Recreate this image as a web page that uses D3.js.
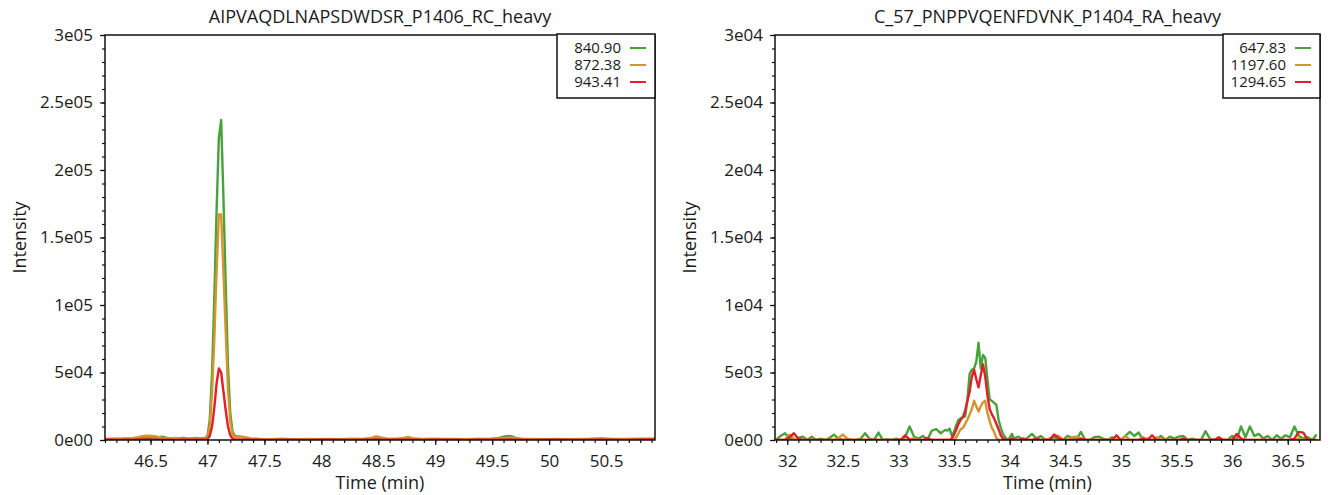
<!DOCTYPE html>
<html>
<head>
<meta charset="utf-8">
<script src="https://cdn.jsdelivr.net/npm/d3@7"></script>
<style>
body{margin:0;background:#fff;}
svg text{font-family:"Open Sans",sans-serif;fill:#1a1a1a;}
</style>
</head>
<body>
<script>
//chromatogram data

//left panel: AIPVAQDLNAPSDWDSR_P1406_RC_heavy
var leftTitle = "AIPVAQDLNAPSDWDSR_P1406_RC_heavy";
var leftSeries = ["840.90", "872.38", "943.41"];
var leftTimes = [46.10, 46.16, 46.22, 46.28, 46.34, 46.40, 46.44, 46.48, 46.52, 46.56, 46.60, 46.66, 46.72, 46.78, 46.84, 46.90, 46.94, 46.98,
    47.00, 47.02, 47.04, 47.06, 47.08, 47.10, 47.12, 47.14, 47.16, 47.18, 47.20, 47.22, 47.24,
    47.28, 47.32, 47.38, 47.46, 47.56, 47.66, 47.76, 47.86, 47.96,
    48.06, 48.16, 48.26, 48.36, 48.44, 48.48, 48.52, 48.58, 48.66, 48.72, 48.76, 48.80, 48.88, 48.98,
    49.08, 49.18, 49.28, 49.38, 49.48, 49.56, 49.62, 49.66, 49.70, 49.76, 49.86, 49.96,
    50.06, 50.16, 50.26, 50.36, 50.46, 50.56, 50.66, 50.76, 50.86, 50.93];
var leftGreen = [500, 800, 400, 1200, 800, 1500, 1800, 1200, 2000, 1500, 2500, 1200, 800, 1500, 1000, 1500, 1200, 1500,
    3000, 15000, 50000, 105000, 170000, 224000, 237000, 180000, 115000, 55000, 20000, 6000, 3000,
    2500, 2000, 800, 500, 300, 600, 300, 500, 300,
    400, 300, 500, 300, 600, 900, 500, 300, 400, 500, 800, 400, 300, 500,
    300, 400, 300, 500, 600, 1500, 2800, 3000, 1800, 600, 400, 300,
    500, 300, 400, 300, 500, 300, 400, 300, 500, 300];
var leftOrange = [800, 1000, 1200, 900, 1400, 2200, 3000, 3200, 3000, 2400, 1600, 1200, 1500, 1000, 800, 1200, 900, 1200,
    2000, 10000, 35000, 75000, 125000, 167000, 167000, 125000, 80000, 38000, 14000, 4000, 2000,
    2500, 2200, 1200, 800, 600, 900, 500, 800, 600,
    700, 600, 900, 700, 1500, 2600, 2000, 900, 1000, 1600, 2200, 1300, 800, 900,
    700, 800, 600, 900, 700, 1200, 1600, 1800, 1300, 800, 700, 600,
    800, 600, 700, 900, 1400, 800, 700, 900, 1000, 1200];
var leftRed = [200, 300, 100, 300, 200, 400, 300, 400, 300, 200, 300, 200, 100, 300, 200, 300, 200, 300,
    500, 3000, 10000, 24000, 42000, 53000, 50000, 36000, 22000, 10000, 3500, 1000, 300,
    400, 300, 200, 300, 100, 200, 300, 100, 200,
    300, 200, 100, 300, 200, 400, 300, 200, 300, 200, 300, 200, 100, 300,
    200, 300, 100, 200, 300, 200, 300, 400, 300, 200, 100, 300,
    200, 300, 100, 200, 300, 200, 100, 300, 400, 300];
var leftXTicks = [46.5, 47, 47.5, 48, 48.5, 49, 49.5, 50, 50.5];
var leftYTicks = [0, 50000, 100000, 150000, 200000, 250000, 300000];
var leftYLabels = ["0e00", "5e04", "1e05", "1.5e05", "2e05", "2.5e05", "3e05"];

//right panel: C_57_PNPPVQENFDVNK_P1404_RA_heavy
var rightTitle = "C_57_PNPPVQENFDVNK_P1404_RA_heavy";
var rightSeries = ["647.83", "1197.60", "1294.65"];
var rightTimes = [31.90, 31.94, 31.98, 32.02, 32.06, 32.10, 32.14, 32.18, 32.22, 32.26, 32.30, 32.34, 32.38, 32.42, 32.46, 32.50, 32.54, 32.58, 32.62, 32.66,
    32.70, 32.74, 32.78, 32.82, 32.86, 32.90, 32.94, 32.98, 33.02, 33.06, 33.10, 33.14, 33.18, 33.22, 33.26, 33.30, 33.34, 33.38, 33.42,
    33.44, 33.46, 33.48, 33.50, 33.52, 33.54, 33.56, 33.58, 33.60, 33.62, 33.64, 33.66, 33.68, 33.70, 33.72, 33.74, 33.76, 33.78, 33.80, 33.82,
    33.84, 33.86, 33.88, 33.90, 33.92, 33.94, 33.96, 33.98, 34.00, 34.02, 34.04,
    34.08, 34.12, 34.16, 34.20, 34.24, 34.28, 34.32, 34.36, 34.40, 34.44, 34.48, 34.52, 34.56, 34.60, 34.64, 34.68, 34.72, 34.76, 34.80, 34.84,
    34.88, 34.92, 34.96, 35.00, 35.04, 35.08, 35.12, 35.16, 35.20, 35.24, 35.28, 35.32, 35.36, 35.40, 35.44, 35.48, 35.52, 35.56, 35.60, 35.64,
    35.68, 35.72, 35.76, 35.80, 35.84, 35.88, 35.92, 35.96, 36.00, 36.04, 36.08, 36.12, 36.16, 36.20, 36.24, 36.28, 36.32, 36.36, 36.40, 36.44,
    36.48, 36.52, 36.56, 36.60, 36.64, 36.68, 36.72, 36.76];
var rightGreen = [0, 300, 500, 100, 0, 150, 250, 0, 250, 0, 100, 0, 150, 400, 100, 0, 50, 0, 0, 100,
    500, 100, 0, 550, 0, 50, 0, 100, 0, 200, 1000, 250, 100, 300, 0, 700, 800, 500, 750,
    700, 850, 300, 600, 1100, 1500, 1600, 1700, 1750, 3000, 4900, 5200, 5300, 5800, 7200, 5300, 6300, 6100, 4500, 3000,
    2900, 2750, 2600, 1500, 900, 450, 200, 0, 150, 450, 100,
    250, 0, 150, 450, 100, 300, 0, 100, 200, 100, 0, 300, 150, 0, 600, 0, 0, 200, 250, 100,
    0, 200, 0, 0, 300, 600, 300, 550, 0, 100, 0, 0, 300, 0, 250, 100, 250, 300, 0, 100,
    0, 0, 650, 100, 0, 100, 0, 0, 300, 0, 1000, 200, 1000, 300, 450, 100, 300, 0, 350, 100,
    350, 200, 1000, 300, 100, 200, 0, 400];
var rightOrange = [0, 0, 0, 400, 100, 0, 0, 0, 0, 0, 0, 0, 0, 0, 150, 400, 100, 0, 0, 0,
    0, 0, 0, 0, 0, 0, 0, 0, 0, 0, 0, 150, 0, 0, 0, 0, 0, 0, 0,
    0, 0, 0, 0, 200, 500, 800, 900, 1200, 1500, 1900, 2300, 2900, 2500, 2100, 2500, 2800, 2900, 2000, 1400,
    900, 600, 150, 0, 0, 0, 0, 0, 0, 0, 0,
    0, 100, 0, 0, 0, 0, 0, 100, 350, 300, 0, 0, 200, 250, 100, 0, 0, 0, 0, 0,
    0, 0, 100, 0, 300, 0, 0, 0, 200, 0, 0, 200, 0, 0, 0, 0, 0, 0, 0, 0,
    0, 0, 0, 0, 0, 0, 0, 0, 0, 0, 0, 0, 0, 0, 0, 0, 0, 0, 0, 0,
    0, 0, 0, 100, 0, 0, 0, 0];
var rightRed = [0, 0, 0, 200, 500, 100, 0, 0, 0, 0, 0, 0, 0, 0, 0, 0, 0, 0, 0, 0,
    0, 0, 0, 0, 0, 0, 0, 0, 0, 350, 50, 0, 0, 0, 150, 0, 0, 0, 0,
    0, 0, 100, 400, 800, 1200, 1500, 1700, 2200, 2900, 3600, 4700, 5200, 4500, 3900, 4800, 5600, 4700, 3300, 2300,
    1900, 1600, 1200, 800, 350, 100, 0, 0, 0, 100, 0,
    0, 100, 0, 0, 100, 0, 0, 0, 400, 150, 0, 0, 0, 0, 100, 0, 0, 0, 0, 0,
    0, 0, 350, 0, 0, 0, 0, 0, 100, 0, 350, 0, 0, 0, 0, 0, 0, 100, 0, 0,
    0, 0, 0, 0, 0, 200, 0, 0, 0, 450, 100, 0, 0, 0, 0, 0, 0, 0, 0, 0,
    0, 0, 100, 600, 550, 0, 0, 0];
var rightXTicks = [32, 32.5, 33, 33.5, 34, 34.5, 35, 35.5, 36, 36.5];
var rightYTicks = [0, 5000, 10000, 15000, 20000, 25000, 30000];
var rightYLabels = ["0e00", "5e03", "1e04", "1.5e04", "2e04", "2.5e04", "3e04"];

var seriesColors = ["#47a23c", "#d6952b", "#e11f26"];


(function(){

var svg = d3.select("body")
    .append("svg")
    .attr("width", 1332)
    .attr("height", 495);

drawPanel({
    id: "left", title: leftTitle, names: leftSeries,
    times: leftTimes, values: [leftGreen, leftOrange, leftRed],
    xDomain: [46.1, 50.93], yMax: 300000, minorY: 10000,
    xTicks: leftXTicks, yTicks: leftYTicks, yLabels: leftYLabels,
    left: 105, right: 655, top: 35, bottom: 440, labelX: 20, legendW: 98
});

drawPanel({
    id: "right", title: rightTitle, names: rightSeries,
    times: rightTimes, values: [rightGreen, rightOrange, rightRed],
    xDomain: [31.89, 36.79], yMax: 30000, minorY: 1000,
    xTicks: rightXTicks, yTicks: rightYTicks, yLabels: rightYLabels,
    left: 775, right: 1320, top: 35, bottom: 440, labelX: 690, legendW: 97
});

function drawPanel(p){
    var x = d3.scaleLinear().domain(p.xDomain).range([p.left, p.right]);
    var y = d3.scaleLinear().domain([0, p.yMax]).range([p.bottom, p.top]);
    var g = svg.append("g").attr("class", p.id);

    //clip traces to plot box
    g.append("clipPath").attr("id", p.id + "Clip")
        .append("rect")
        .attr("x", p.left).attr("y", p.top)
        .attr("width", p.right - p.left).attr("height", p.bottom - p.top);

    var line = d3.line()
        .x(function(d, i){ return x(p.times[i]); })
        .y(function(d){ return y(d); });

    g.append("g").attr("clip-path", "url(#" + p.id + "Clip)")
        .selectAll(".trace")
        .data(p.values)
        .enter()
        .append("path")
        .attr("class", "trace")
        .attr("d", line)
        .attr("fill", "none")
        .attr("stroke", function(d, i){ return seriesColors[i]; })
        .attr("stroke-width", 2.4)
        .attr("stroke-linejoin", "round");

    //minor ticks
    var xMinor = d3.range(Math.ceil(p.xDomain[0] * 10), Math.floor(p.xDomain[1] * 10) + 1).map(function(v){ return v / 10; });
    var yMinor = d3.range(0, p.yMax + 1, p.minorY);

    g.append("g")
        .attr("transform", "translate(0," + p.bottom + ")")
        .call(d3.axisBottom(x).tickValues(xMinor).tickSize(3).tickFormat(""))
        .call(function(s){ s.select(".domain").remove(); });
    g.append("g")
        .attr("transform", "translate(" + p.left + ",0)")
        .call(d3.axisLeft(y).tickValues(yMinor).tickSize(3).tickFormat(""))
        .call(function(s){ s.select(".domain").remove(); });

    //major ticks
    var xAxis = g.append("g")
        .attr("transform", "translate(0," + p.bottom + ")")
        .call(d3.axisBottom(x).tickValues(p.xTicks).tickSize(5).tickPadding(10).tickFormat(function(d){ return String(d); }));
    var yAxis = g.append("g")
        .attr("transform", "translate(" + p.left + ",0)")
        .call(d3.axisLeft(y).tickValues(p.yTicks).tickSize(5).tickPadding(7).tickFormat(function(d, i){ return p.yLabels[i]; }));
    [xAxis, yAxis].forEach(function(a){
        a.select(".domain").remove();
        a.selectAll("text").attr("font-size", 17).attr("font-family", null);
    });
    g.selectAll(".tick line").attr("stroke", "#111").attr("stroke-width", 1.2);

    //plot frame
    g.append("rect")
        .attr("x", p.left).attr("y", p.top)
        .attr("width", p.right - p.left).attr("height", p.bottom - p.top)
        .attr("fill", "none").attr("stroke", "#111").attr("stroke-width", 1.5);

    //titles
    g.append("text")
        .attr("x", (p.left + p.right) / 2).attr("y", 23)
        .attr("text-anchor", "middle").attr("font-size", 18)
        .text(p.title);
    g.append("text")
        .attr("x", (p.left + p.right) / 2).attr("y", 489)
        .attr("text-anchor", "middle").attr("font-size", 18)
        .text("Time (min)");
    g.append("text")
        .attr("transform", "translate(" + (p.labelX + 6) + "," + ((p.top + p.bottom) / 2) + ") rotate(-90)")
        .attr("text-anchor", "middle").attr("font-size", 18)
        .text("Intensity");

    //legend
    var lx = p.right - p.legendW;
    var legend = g.append("g");
    legend.append("rect")
        .attr("x", lx).attr("y", p.top - 1)
        .attr("width", p.legendW).attr("height", 64)
        .attr("fill", "#fff").attr("stroke", "#111").attr("stroke-width", 1.5);
    var rows = legend.selectAll(".row")
        .data(p.names)
        .enter()
        .append("g")
        .attr("transform", function(d, i){ return "translate(0," + (p.top + 13 + i * 17) + ")"; });
    rows.append("text")
        .attr("x", p.right - 34).attr("dy", "0.35em")
        .attr("text-anchor", "end").attr("font-size", 15)
        .text(function(d){ return d; });
    rows.append("line")
        .attr("x1", p.right - 25).attr("x2", p.right - 9)
        .attr("stroke", function(d, i){ return seriesColors[i]; })
        .attr("stroke-width", 2);
};

})();
</script>
</body>
</html>
